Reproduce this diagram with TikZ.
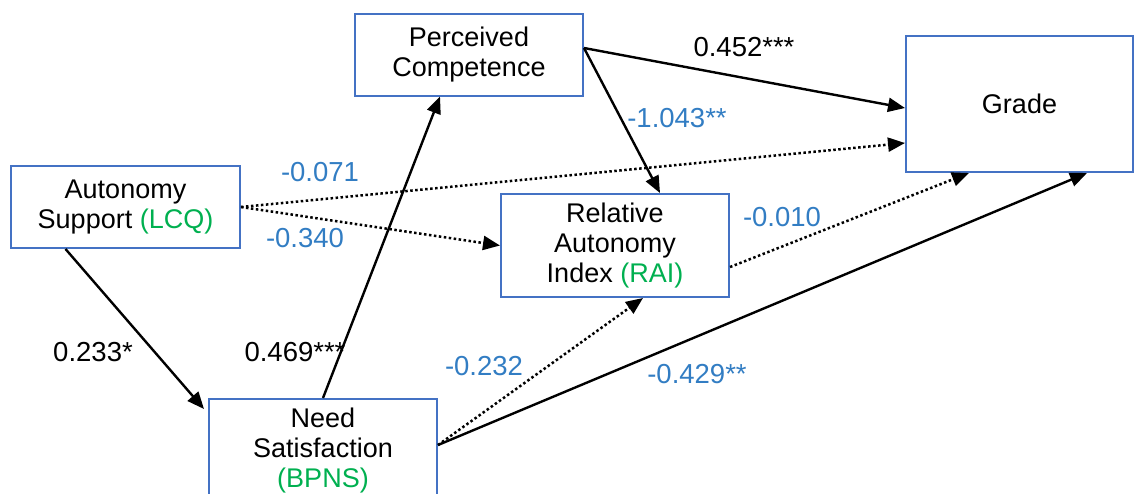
\documentclass[tikz,border=0pt]{standalone}
\usepackage{fontspec}
\setmainfont{Liberation Sans}
\usetikzlibrary{arrows.meta}
\definecolor{boxblue}{HTML}{4472C4}
\definecolor{lblblue}{RGB}{50,125,195}
\definecolor{grn}{HTML}{00B050}
\newcommand{\grn}[1]{\textcolor{grn}{#1}}
\tikzset{
  box/.style={draw=boxblue, line width=2pt, fill=white, inner sep=0pt, align=center,
    font=\fontsize{27}{30}\selectfont},
  sol/.style={line width=2.4pt, -{Triangle[length=17pt,width=14pt]}},
  dot/.style={line width=2.5pt, dash pattern=on 2.5pt off 2.5pt, -{Triangle[length=17pt,width=14pt]}},
  lbl/.style={font=\fontsize{27.5}{30}\selectfont, inner sep=0pt},
  blbl/.style={lbl, text=lblblue}
}
\begin{document}
\begin{tikzpicture}[x=1pt,y=-1pt]
\useasboundingbox (0,0) rectangle (1135,493);
\clip (0,0) rectangle (1135,493);
\node[box, minimum width=229pt, minimum height=82pt] (as) at (125.5,207) {Autonomy\\Support \grn{(LCQ)}};
\node[box, minimum width=228pt, minimum height=82pt] (pc) at (469,54.5) {Perceived\\Competence};
\node[box, minimum width=227pt, minimum height=136pt] (grade) at (1019.5,104) {Grade};
\node[box, minimum width=228pt, minimum height=103pt] (rai) at (615,245.5) {Relative\\Autonomy\\Index \grn{(RAI)}};
\node[box, minimum width=228pt, minimum height=104pt] (ns) at (323,451) {Need\\Satisfaction\\\grn{(BPNS)}};

\draw[sol] ([xshift=-60pt]as.south) -- ([shift={(-4pt,-11pt)}]ns.north west);
\draw[sol] (ns.north) -- ([xshift=-29pt]pc.south);
\draw[sol] ([yshift=6.5pt]pc.east) -- ([yshift=-4pt]grade.west);
\draw[sol] ([yshift=6.5pt]pc.east) -- ([xshift=45pt]rai.north);
\draw[dot] (as.east) -- ([yshift=-39pt]grade.west);
\draw[dot] (as.east) -- (rai.west);
\draw[dot] ([yshift=-21.5pt]rai.east) -- ([xshift=64pt]grade.south west);
\draw[dot] ([yshift=6pt]ns.east) -- ([xshift=28pt]rai.south);
\draw[sol] ([yshift=6pt]ns.east) -- ([xshift=182pt]grade.south west);

\node[blbl] (l1) at (320,172) {-0.071};
\node[blbl] (l2) at (305,238) {-0.340};
\node[lbl] (l3) at (93,352) {0.233*};
\node[lbl] (l4) at (295,352) {0.469***};
\node[lbl] (l5) at (744,47) {0.452***};
\node[blbl] (l6) at (677,118) {-1.043**};
\node[blbl] (l7) at (782,217) {-0.010};
\node[blbl] (l8) at (484,366) {-0.232};
\node[blbl] (l9) at (697,374) {-0.429**};
\end{tikzpicture}
\end{document}
